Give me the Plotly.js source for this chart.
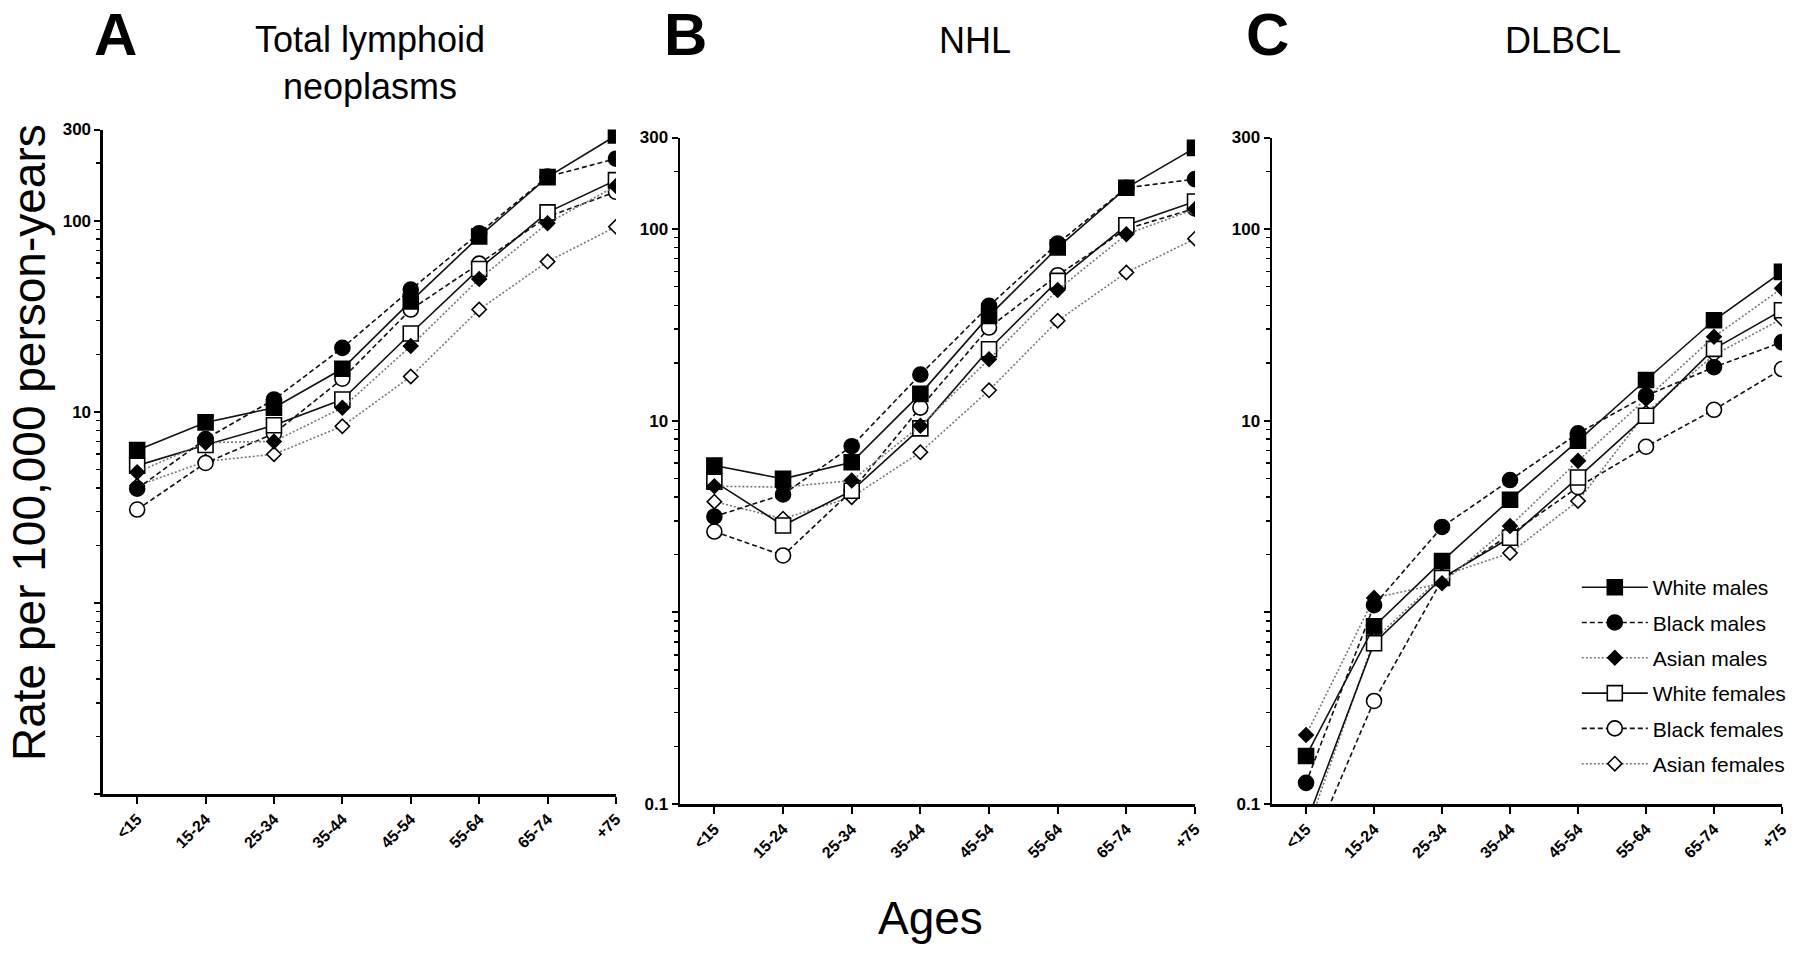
<!DOCTYPE html>
<html><head><meta charset="utf-8">
<script src="https://cdn.plot.ly/plotly-3.0.1.min.js"></script>
<style>html,body{margin:0;padding:0;background:#fff}</style>
</head><body><div id="chart" style="width:1800px;height:953px"></div>
<script>
// Categories
const ages = ['<15','15-24','25-34','35-44','45-54','55-64','65-74','+75'];
const seriesNames = ['White males','Black males','Asian males','White females','Black females','Asian females'];
const panelTitles = ['Total lymphoid<br>neoplasms','NHL','DLBCL'];
const panelLetters = ['A','B','C'];

// Panel A: Total lymphoid neoplasms (rate per 100,000 person-years)
const totalWhiteMales   = [6.3, 8.8, 10.5, 16.8, 37.8, 82.6, 169, 279];
const totalBlackMales   = [3.96, 7.2, 11.6, 21.6, 43.6, 86, 170, 211];
const totalAsianMales   = [4.83, 6.9, 7.0, 10.5, 22.1, 49.5, 97, 152];
const totalWhiteFemales = [5.23, 6.7, 8.5, 11.6, 25.7, 55.9, 110.6, 163];
const totalBlackFemales = [3.08, 5.4, 7.7, 14.9, 34.3, 59.6, 105, 141.6];
const totalAsianFemales = [4.1, 5.5, 6.0, 8.4, 15.3, 34.3, 61.1, 93];

// Panel B: NHL
const nhlWhiteMales   = [5.83, 4.97, 6.07, 13.8, 35.2, 80, 164, 265];
const nhlBlackMales   = [3.16, 4.12, 7.36, 17.4, 39.7, 84, 164, 182];
const nhlAsianMales   = [4.55, 4.5, 4.87, 9.4, 20.9, 48.1, 93.8, 127];
const nhlWhiteFemales = [4.81, 2.84, 4.31, 9.12, 23.6, 53.6, 104.5, 139];
const nhlBlackFemales = [2.64, 1.98, 4.3, 11.7, 30.6, 57.4, 100, 128];
const nhlAsianFemales = [3.78, 3.08, 3.99, 6.84, 14.4, 33.2, 59.3, 89];

// Panel C: DLBCL
const dlbclWhiteMales   = [0.178, 0.845, 1.85, 3.87, 7.85, 16.3, 33.4, 59.7];
const dlbclBlackMales   = [0.129, 1.09, 2.79, 4.9, 8.59, 13.5, 19, 25.7];
const dlbclAsianMales   = [0.229, 1.19, 1.42, 2.82, 6.17, 13, 27.4, 49];
const dlbclWhiteFemales = [0.079, 0.69, 1.51, 2.45, 5.05, 10.6, 23.7, 37.7];
const dlbclBlackFemales = [0.051, 0.345, 1.48, 2.55, 4.5, 7.31, 11.4, 18.6];
const dlbclAsianFemales = [0.07, 0.72, 1.55, 2.04, 3.81, 11, 22, 34];

const yTickVals = [0.1, 1, 10, 100, 300];
const yTickTextA = ['', '', '10', '100', '300'];
const yTickTextBC = ['0.1', '', '10', '100', '300'];

const panels = [
  [totalWhiteMales, totalBlackMales, totalAsianMales, totalWhiteFemales, totalBlackFemales, totalAsianFemales],
  [nhlWhiteMales, nhlBlackMales, nhlAsianMales, nhlWhiteFemales, nhlBlackFemales, nhlAsianFemales],
  [dlbclWhiteMales, dlbclBlackMales, dlbclAsianMales, dlbclWhiteFemales, dlbclBlackFemales, dlbclAsianFemales]
];

const styles = [
  {symbol:'square',  size:15, fill:'#000', dash:'solid',   lc:'#111', lw:1.6},
  {symbol:'circle',  size:15, fill:'#000', dash:'5px,3px', lc:'#111', lw:1.6},
  {symbol:'diamond', size:11, fill:'#000', dash:'2px,2px', lc:'#777', lw:1.6},
  {symbol:'square',  size:15, fill:'#fff', dash:'solid',   lc:'#111', lw:1.6},
  {symbol:'circle',  size:15, fill:'#fff', dash:'5px,3px', lc:'#111', lw:1.6},
  {symbol:'diamond', size:11, fill:'#fff', dash:'2px,2px', lc:'#777', lw:1.6}
];

const drawOrder = [5, 4, 3, 2, 1, 0];
const traces = [];
panels.forEach((panel, p) => {
  const sfx = p === 0 ? '' : String(p + 1);
  drawOrder.forEach(s => {
    const st = styles[s];
    traces.push({
      type: 'scatter', mode: 'lines+markers',
      x: ages, y: panel[s], name: seriesNames[s],
      xaxis: 'x' + sfx, yaxis: 'y' + sfx,
      legendgroup: seriesNames[s], legendrank: s + 1, showlegend: p === 2,
      line: {color: st.lc, width: st.lw, dash: st.dash},
      marker: {symbol: st.symbol, size: st.size, color: st.fill, line: {color: '#000', width: 1.6}}
    });
  });
});

const minorVals = [];
for (let k = -1; k <= 2; k++) {
  for (let m = 2; m <= 9; m++) {
    const v = m * Math.pow(10, k);
    if (v < 300) minorVals.push(v);
  }
}

const font = 'Liberation Sans, Arial, sans-serif';
const xTickFont = {family: font, size: 16, color: '#000', weight: 'bold'};
const yTickFont = {family: font, size: 17, color: '#000', weight: 'bold'};
function xAxis(domain, anchor) {
  return {domain: domain, anchor: anchor, type: 'category', range: [-0.5, 7],
    showline: true, linewidth: 2.5, linecolor: '#000', ticks: 'outside', ticklen: 7, tickwidth: 2,
    tickcolor: '#000', tickangle: -45, tickfont: xTickFont, showgrid: false, zeroline: false, fixedrange: true};
}
function yAxis(domain, anchor, ticktext) {
  return {domain: domain, anchor: anchor, type: 'log', range: [-1, Math.log10(300)],
    tickmode: 'array', tickvals: yTickVals, ticktext: ticktext,
    showline: true, linewidth: 2.5, linecolor: '#000', ticks: 'outside', ticklen: 6, tickwidth: 2,
    tickcolor: '#000', tickfont: yTickFont, showgrid: false, zeroline: false,
    minor: {tickmode: 'array', tickvals: minorVals, ticks: 'outside', ticklen: 4, tickwidth: 1.5, tickcolor: '#000', showgrid: false}};
}

function ann(text, x, y, size, extra) {
  return Object.assign({text: text, x: x, y: y, xref: 'paper', yref: 'paper', showarrow: false,
    xanchor: 'center', yanchor: 'middle', font: {family: font, size: size, color: '#000'}}, extra || {});
}

const layout = {
  width: 1800, height: 953, autosize: false,
  margin: {l: 0, r: 0, t: 0, b: 0},
  paper_bgcolor: '#fff', plot_bgcolor: '#fff',
  font: {family: font, color: '#000'},
  xaxis: xAxis([0.0572, 0.3422], 'y'),
  yaxis: yAxis([0.1668, 0.8641], 'x', yTickTextA),
  xaxis2: xAxis([0.3778, 0.6639], 'y2'),
  yaxis2: yAxis([0.1563, 0.8557], 'x2', yTickTextBC),
  xaxis3: xAxis([0.7067, 0.99], 'y3'),
  yaxis3: yAxis([0.1563, 0.8557], 'x3', yTickTextBC),
  legend: {x: 0.876, y: 0.405, xanchor: 'left', yanchor: 'top', traceorder: 'grouped',
    tracegroupgap: 5, itemwidth: 66, font: {family: font, size: 21, color: '#000'}, bgcolor: 'rgba(0,0,0,0)'},
  annotations: [
    ann(panelLetters[0], 0.0639, 0.9643, 60, {font: {family: font, size: 60, color: '#000', weight: 'bold'}}),
    ann(panelLetters[1], 0.3811, 0.9643, 60, {font: {family: font, size: 60, color: '#000', weight: 'bold'}}),
    ann(panelLetters[2], 0.7044, 0.9643, 60, {font: {family: font, size: 60, color: '#000', weight: 'bold'}}),
    ann(panelTitles[0], 0.2056, 0.9339, 36),
    ann(panelTitles[1], 0.5417, 0.957, 36),
    ann(panelTitles[2], 0.8683, 0.957, 36),
    ann('Rate per 100,000 person-years', 0.0161, 0.5362, 46, {textangle: -90}),
    ann('Ages', 0.5172, 0.0367, 46)
  ]
};

Plotly.newPlot('chart', traces, layout, {displayModeBar: false, staticPlot: true});
</script>
</body></html>
